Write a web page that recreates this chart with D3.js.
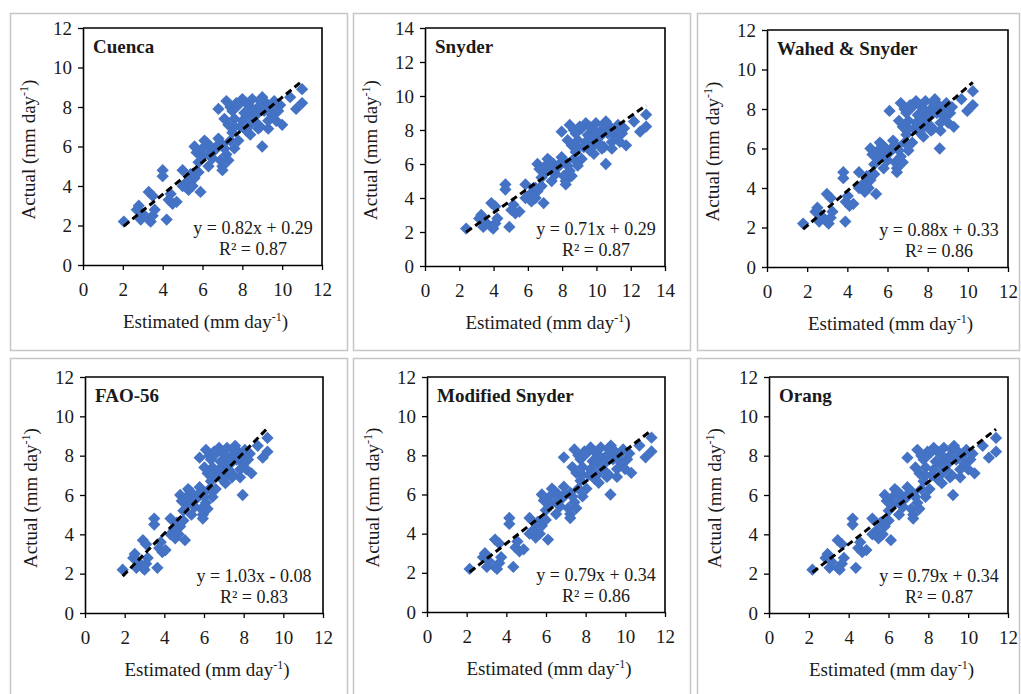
<!DOCTYPE html>
<html>
<head>
<meta charset="utf-8">
<script src="https://cdn.jsdelivr.net/npm/d3@7"></script>
<style>
  body { margin: 0; background: #fff; }
  svg { display: block; }
  svg text { font-family: "Liberation Serif", "Times New Roman", serif; fill: #1a1a1a; }
</style>
</head>
<body>
<svg id="chart" width="1021" height="694"></svg>
<script>
// actual values (same for every panel), mm/day
const ACTUAL = [2.2,2.8,3.0,2.3,2.6,2.3,2.2,2.5,2.8,3.7,3.5,4.8,4.5,2.3,3.3,3.1,3.2,3.6,4.8,4.2,
    4.0,3.8,4.0,4.4,4.7,3.7,6.0,5.7,5.5,6.2,5.9,6.0,5.4,6.4,5.8,5.0,4.8,5.3,5.6,5.3,
    6.1,7.9,8.3,8.0,7.1,7.4,6.7,6.3,8.4,8.2,7.7,7.0,6.6,8.4,7.3,8.0,8.5,8.2,7.0,6.0,
    6.9,7.6,8.3,7.8,7.1,8.5,7.9,8.9,8.2,7.3,7.8,7.0,7.6,5.0,5.9,8.2,6.3,4.6,8.1,6.3,
    7.8,8.1,7.3,6.8,8.0,7.6,6.9,7.8,8.0,7.4,7.0,8.3,6.0,5.9,5.6,5.2,4.6,7.3];

// estimated values per method
const EST_CUENCA = [2.05,2.7,2.8,2.9,3.0,3.3,3.4,3.5,3.6,3.3,3.5,4.0,4.0,4.2,4.3,4.5,4.7,4.4,5.0,5.2,
    5.0,5.3,5.5,5.6,5.8,5.9,5.6,5.7,6.0,6.2,6.0,6.4,6.5,6.8,6.6,7.0,7.0,6.9,7.2,7.3,
    7.0,6.8,7.2,7.4,7.3,7.6,7.5,7.8,8.0,8.2,8.1,8.3,8.4,8.5,8.6,8.8,9.0,9.2,8.9,9.0,
    9.3,9.5,9.6,9.8,10.0,10.4,10.7,11.0,11.0,9.3,8.6,7.9,8.3,6.3,7.6,7.7,6.1,5.4,9.9,7.4,
    7.5,7.8,8.0,8.2,8.4,8.7,8.8,9.1,9.4,7.1,7.6,8.9,6.7,7.1,6.3,5.8,5.5,9.7];
const EST_SNYDER = [2.40,3.16,3.28,3.40,3.51,3.87,3.98,4.10,4.22,3.87,4.10,4.69,4.69,4.92,5.04,5.27,5.51,5.16,5.86,6.10,
    5.86,6.21,6.45,6.56,6.80,6.92,6.56,6.68,7.03,7.27,7.03,7.50,7.62,7.97,7.74,8.21,8.21,8.09,8.44,8.56,
    8.21,7.97,8.44,8.68,8.56,8.91,8.79,9.14,9.38,9.61,9.50,9.73,9.85,9.97,10.08,10.32,10.55,10.79,10.44,10.55,
    10.90,11.14,11.26,11.49,11.73,12.19,12.55,12.90,12.90,10.90,10.08,9.26,9.73,7.39,8.91,9.03,7.15,6.33,11.61,8.68,
    8.79,9.14,9.38,9.61,9.85,10.20,10.32,10.67,11.02,8.32,8.91,10.44,7.85,8.32,7.39,6.80,6.45,11.37];
const EST_WAHED = [1.80,2.41,2.51,2.60,2.70,2.98,3.07,3.17,3.26,2.98,3.17,3.80,3.80,3.90,3.92,4.11,4.30,4.02,4.58,4.77,
    4.58,4.87,5.06,5.15,5.34,5.43,5.15,5.25,5.53,5.72,5.53,5.91,6.00,6.28,6.10,6.47,6.47,6.38,6.66,6.76,
    6.47,6.10,6.66,6.85,6.76,7.04,6.94,7.23,7.42,7.61,7.51,7.70,7.79,7.89,7.98,8.17,8.36,8.55,8.27,8.60,
    8.64,8.83,8.93,9.12,9.30,9.68,9.97,10.25,10.25,8.64,7.98,7.32,7.70,5.81,7.04,7.13,5.62,4.96,9.21,6.85,
    6.94,7.23,7.42,7.61,7.79,8.08,8.17,8.46,8.74,6.57,7.04,8.27,6.19,6.57,5.81,5.34,5.06,9.02];
const EST_FAO = [1.90,2.43,2.51,2.59,2.68,2.92,3.00,3.08,3.16,2.92,3.08,3.49,3.49,3.65,3.74,3.90,4.06,3.82,4.31,4.47,
    4.31,4.55,4.72,4.80,4.96,5.04,4.80,4.88,5.12,5.29,5.12,5.45,5.53,5.78,5.61,5.94,5.94,5.86,6.10,6.18,
    5.94,5.78,6.10,6.27,6.18,6.43,6.35,6.59,6.76,6.92,6.84,7.00,7.08,7.16,7.24,7.41,7.57,7.73,7.49,7.95,
    7.82,7.98,8.06,8.22,8.39,8.71,8.96,9.20,9.20,7.82,7.24,6.67,7.00,5.37,6.43,6.51,5.20,4.63,8.31,6.27,
    6.35,6.59,6.76,6.92,7.08,7.33,7.41,7.65,7.90,6.02,6.43,7.49,5.69,6.02,5.37,4.96,4.72,8.14];
const EST_MOD_SNYDER = [2.15,2.82,2.92,3.02,3.12,3.43,3.53,3.64,3.74,3.43,3.64,4.15,4.15,4.35,4.46,4.66,4.87,4.56,5.17,5.38,
    5.17,5.48,5.69,5.79,5.99,6.10,5.79,5.89,6.20,6.40,6.20,6.61,6.71,6.90,6.81,7.22,7.22,7.12,7.43,7.53,
    7.22,6.90,7.43,7.63,7.53,7.84,7.74,8.04,8.25,8.45,8.35,8.56,8.66,8.76,8.86,9.07,9.27,9.48,9.17,9.25,
    9.58,9.79,9.89,10.09,10.30,10.71,11.02,11.32,11.32,9.58,8.86,8.15,8.56,6.51,7.84,7.94,6.30,5.58,10.20,7.63,
    7.74,8.04,8.25,8.45,8.66,8.97,9.07,9.38,9.68,7.33,7.84,9.17,6.92,7.33,6.51,5.99,5.69,9.99];
const EST_ORANG = [2.18,2.84,2.94,3.04,3.14,3.45,3.55,3.66,3.76,3.45,3.66,4.20,4.20,4.36,4.48,4.68,4.89,4.58,5.19,5.40,
    5.19,5.50,5.71,5.81,6.01,6.12,5.81,5.91,6.22,6.42,6.22,6.63,6.73,6.95,6.83,7.24,7.24,7.14,7.45,7.55,
    7.24,6.95,7.45,7.65,7.55,7.86,7.76,8.06,8.27,8.47,8.37,8.58,8.68,8.78,8.88,9.09,9.29,9.50,9.19,9.24,
    9.60,9.81,9.91,10.11,10.32,10.73,11.04,11.40,11.40,9.60,8.88,8.17,8.58,6.53,7.86,7.96,6.32,5.60,10.22,7.65,
    7.76,8.06,8.27,8.47,8.68,8.99,9.09,9.40,9.70,7.35,7.86,9.19,6.94,7.35,6.53,6.01,5.71,10.01];

const TITLES = ["Cuenca", "Snyder", "Wahed & Snyder", "FAO-56", "Modified Snyder", "Orang"];
const SLOPES = [0.82, 0.71, 0.88, 1.03, 0.79, 0.79];
const INTERCEPTS = [0.29, 0.29, 0.33, -0.08, 0.34, 0.34];
const EQ_LABELS = ["y = 0.82x + 0.29", "y = 0.71x + 0.29", "y = 0.88x + 0.33",
    "y = 1.03x - 0.08", "y = 0.79x + 0.34", "y = 0.79x + 0.34"];
const R2_LABELS = ["R² = 0.87", "R² = 0.87", "R² = 0.86", "R² = 0.83", "R² = 0.86", "R² = 0.87"];
const AXIS_MAX = [12, 14, 12, 12, 12, 12];
const ESTIMATES = [EST_CUENCA, EST_SNYDER, EST_WAHED, EST_FAO, EST_MOD_SNYDER, EST_ORANG];

// layout of each panel: outer frame + plot area (pixels)
const FRAMES = [
    { bx: 10,  by: 13,  bw: 337, bh: 337, left: 83,  right: 322,  top: 28,  bottom: 265 },
    { bx: 353, by: 13,  bw: 337, bh: 337, left: 425, right: 665,  top: 28,  bottom: 266 },
    { bx: 697, by: 13,  bw: 322, bh: 337, left: 767, right: 1008, top: 30,  bottom: 267 },
    { bx: 10,  by: 358, bw: 337, bh: 345, left: 85,  right: 323,  top: 377, bottom: 613 },
    { bx: 353, by: 358, bw: 337, bh: 345, left: 427, right: 665,  top: 377, bottom: 612 },
    { bx: 697, by: 358, bw: 322, bh: 345, left: 769, right: 1008, top: 377, bottom: 613 },
];

const BLUE = "#4472C4";
const svg = d3.select("#chart");

const diamond = d3.symbol().type(d3.symbolDiamond2).size(96);

const drawPanel = (i) => {
    const f = FRAMES[i];
    const est = ESTIMATES[i];
    const max = AXIS_MAX[i];

    // outer frame
    svg.append("rect")
        .attr("x", f.bx + 0.5).attr("y", f.by + 0.5)
        .attr("width", f.bw).attr("height", f.bh)
        .attr("fill", "none")
        .attr("stroke", "#c6c6c6")
        .attr("stroke-width", 1.5);

    const x = d3.scaleLinear().domain([0, max]).range([f.left, f.right]);
    const y = d3.scaleLinear().domain([0, max]).range([f.bottom, f.top]);
    const ticks = d3.range(0, max + 1, 2);

    const g = svg.append("g");

    // plot box (top + right edges)
    g.append("path")
        .attr("d", `M${f.left},${f.top}H${f.right}V${f.bottom}`)
        .attr("fill", "none")
        .attr("stroke", "#000")
        .attr("stroke-width", 1.6);

    const xAxis = g.append("g")
        .attr("transform", `translate(0,${f.bottom})`)
        .call(d3.axisBottom(x).tickValues(ticks).tickSize(5).tickPadding(13).tickSizeOuter(0));
    const yAxis = g.append("g")
        .attr("transform", `translate(${f.left},0)`)
        .call(d3.axisLeft(y).tickValues(ticks).tickSize(5).tickPadding(6).tickSizeOuter(0));

    [xAxis, yAxis].forEach(ax => {
        ax.attr("font-family", null).attr("font-size", null);
        ax.select(".domain").attr("stroke", "#000").attr("stroke-width", 1.6);
        ax.selectAll(".tick line").attr("stroke", "#000").attr("stroke-width", 1.3);
        ax.selectAll(".tick text").attr("fill", null).style("font-size", "19px");
    });

    // points
    g.append("g")
        .selectAll("path")
        .data(est.map((e, k) => [e, ACTUAL[k]]))
        .join("path")
            .attr("d", diamond)
            .attr("transform", d => `translate(${x(d[0])},${y(d[1])})`)
            .attr("fill", BLUE);

    // linear trend line over the data range
    const x0 = d3.min(est), x1 = d3.max(est);
    g.append("line")
        .attr("x1", x(x0)).attr("y1", y(SLOPES[i] * x0 + INTERCEPTS[i]))
        .attr("x2", x(x1)).attr("y2", y(SLOPES[i] * x1 + INTERCEPTS[i]))
        .attr("stroke", "#000")
        .attr("stroke-width", 3)
        .attr("stroke-dasharray", "7,4");

    // panel title
    g.append("text")
        .attr("x", f.left + 10).attr("y", f.top + 25)
        .attr("font-size", 19).attr("font-weight", "bold")
        .text(TITLES[i]);

    // equation + R²
    const eqX = f.right - 69;
    g.append("text")
        .attr("x", eqX).attr("y", f.bottom - 31)
        .attr("text-anchor", "middle").attr("font-size", 18)
        .text(EQ_LABELS[i]);
    g.append("text")
        .attr("x", eqX).attr("y", f.bottom - 10)
        .attr("text-anchor", "middle").attr("font-size", 18)
        .text(R2_LABELS[i]);

    // axis titles
    const xt = g.append("text")
        .attr("x", (f.left + f.right) / 2 + 3).attr("y", f.bottom + 63)
        .attr("text-anchor", "middle").attr("font-size", 19);
    xt.append("tspan").text("Estimated (mm day");
    xt.append("tspan").attr("font-size", 12).attr("dy", -7).text("-1");
    xt.append("tspan").attr("dy", 7).text(")");

    const yt = g.append("text")
        .attr("transform", `translate(${f.left - 48},${(f.top + f.bottom) / 2 + 3}) rotate(-90)`)
        .attr("text-anchor", "middle").attr("font-size", 19);
    yt.append("tspan").text("Actual (mm day");
    yt.append("tspan").attr("font-size", 12).attr("dy", -7).text("-1");
    yt.append("tspan").attr("dy", 7).text(")");
}

TITLES.forEach((t, i) => drawPanel(i));
</script>
</body>
</html>
